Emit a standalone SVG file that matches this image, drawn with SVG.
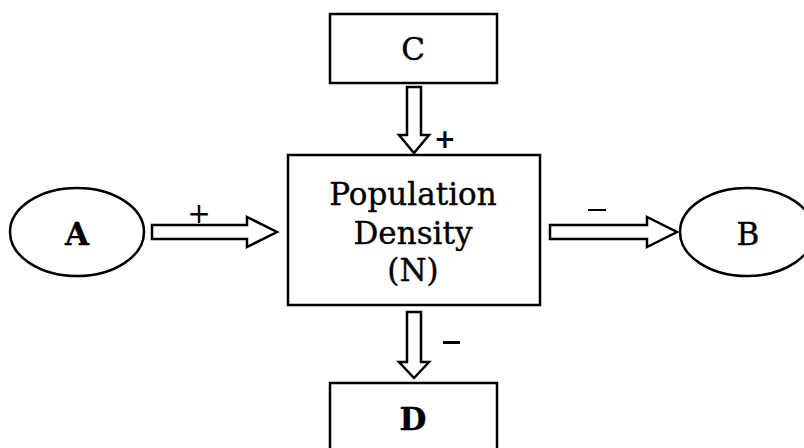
<svg xmlns="http://www.w3.org/2000/svg" width="804" height="448" viewBox="0 0 804 448">
<style>
.sh{fill:#fff;stroke:#000;stroke-width:2.5}
.ar{fill:#fff;stroke:#000;stroke-width:2.5;stroke-linejoin:miter}
.t{font-family:"DejaVu Serif","Liberation Serif",serif;font-size:31px;fill:#000;text-anchor:middle;stroke:#000;stroke-width:0.4}
.b{font-weight:bold}
.s{font-family:"DejaVu Sans","Liberation Sans",sans-serif;fill:#000;text-anchor:middle}
</style>
<rect width="804" height="448" fill="#fff"/>
<g id="connectors">
<polygon class="ar" points="407,87 421,87 421,135 429,135 414,153 399,135 407,135"/>
<polygon class="ar" points="407,312 421,312 421,362 429,362 414,378 399,362 407,362"/>
<polygon class="ar" points="152,225 247,225 247,217 277,232 247,247 247,239 152,239"/>
<polygon class="ar" points="550,225 647,225 647,217 677,232 647,247 647,239 550,239"/>
<text class="s b" x="445" y="148" font-size="26">+</text>
<text class="s" x="199" y="223" font-size="28">+</text>
<rect x="588" y="209" width="18" height="2" fill="#000"/>
<rect x="443" y="341" width="17" height="3" fill="#000"/>
</g>
<g id="nodeC">
<rect class="sh" x="330" y="14" width="167" height="69"/>
<text class="t" x="413" y="60">C</text>
</g>
<g id="nodeN">
<rect class="sh" x="288" y="155" width="252" height="150"/>
<text class="t" x="413" y="205">Population</text>
<text class="t" x="413" y="244">Density</text>
<text class="t" x="413" y="281">(N)</text>
</g>
<g id="nodeD">
<rect class="sh" x="330" y="383" width="167" height="80"/>
<text class="t b" x="413" y="430">D</text>
</g>
<g id="nodeA">
<ellipse class="sh" cx="77" cy="232" rx="67" ry="44"/>
<text class="t b" x="77" y="245">A</text>
</g>
<g id="nodeB">
<ellipse class="sh" cx="747" cy="232" rx="67" ry="44"/>
<text class="t" x="748" y="245">B</text>
</g>
</svg>
